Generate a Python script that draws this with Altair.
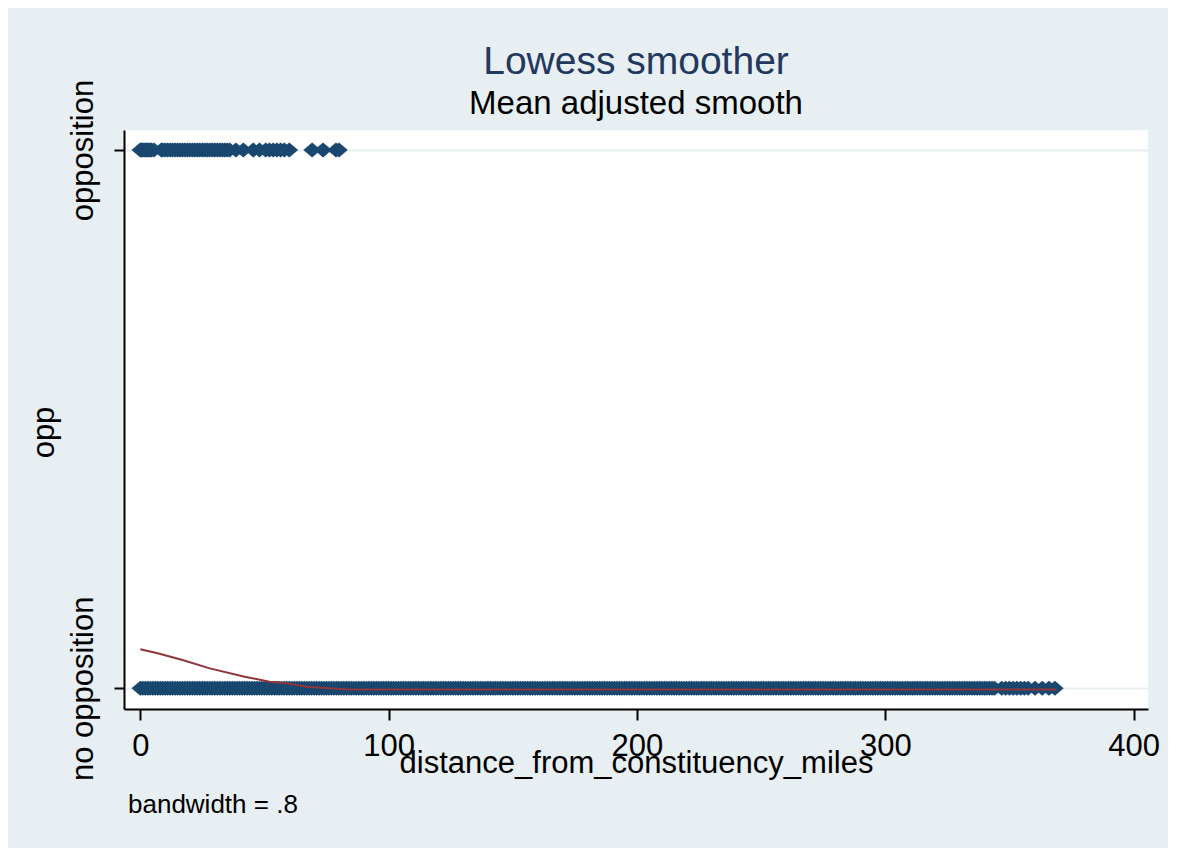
import altair as alt
import pandas as pd

FONT = "Liberation Sans"

# distance values of observations with opp = 1 ("opposition")
opp_yes_x = [0, 0.5, 1, 1.5, 2, 2.5, 3, 3.5, 4, 4.5, 5.5, 8.5, 9, 10, 11, 12, 13, 14,
             15, 16, 17, 18, 19, 20, 21, 22, 23, 24, 25, 26, 27, 28, 29, 30, 31,
             32, 33, 34, 35, 36, 38.5, 41.5, 45.5, 48, 50.5, 52, 53.5, 55, 56.5,
             58, 60, 69.2, 73.6, 78.8, 80]

# distance values of observations with opp = 0 ("no opposition")
opp_no_x = [
    0, 1, 2, 3, 4, 5, 6, 7, 8, 9, 10, 11, 12, 13, 14, 15, 16, 17, 18, 19,
    20, 21, 22, 23, 24, 25, 26, 27, 28, 29, 30, 31, 32, 33, 34, 35, 36, 37, 38, 39,
    40, 41, 42, 43, 44, 45, 46, 47, 48, 49, 50, 51, 52, 53, 54, 55, 56, 57, 58, 59,
    60, 61, 62, 63, 64, 65, 66, 67, 68, 69, 70, 71, 72, 73, 74, 75, 76, 77, 78, 79,
    80, 81, 82, 83, 84, 85, 86, 87, 88, 89, 90, 91, 92, 93, 94, 95, 96, 97, 98, 99,
    100, 101, 102, 103, 104, 105, 106, 107, 108, 109, 110, 111, 112, 113, 114, 115, 116, 117, 118, 119,
    120, 121, 122, 123, 124, 125, 126, 127, 128, 129, 130, 131, 132, 133, 134, 135, 136, 137, 138, 139,
    140, 141, 142, 143, 144, 145, 146, 147, 148, 149, 150, 151, 152, 153, 154, 155, 156, 157, 158, 159,
    160, 161, 162, 163, 164, 165, 166, 167, 168, 169, 170, 171, 172, 173, 174, 175, 176, 177, 178, 179,
    180, 181, 182, 183, 184, 185, 186, 187, 188, 189, 190, 191, 192, 193, 194, 195, 196, 197, 198, 199,
    200, 201, 202, 203, 204, 205, 206, 207, 208, 209, 210, 211, 212, 213, 214, 215, 216, 217, 218, 219,
    220, 221, 222, 223, 224, 225, 226, 227, 228, 229, 230, 231, 232, 233, 234, 235, 236, 237, 238, 239,
    240, 241, 242, 243, 244, 245, 246, 247, 248, 249, 250, 251, 252, 253, 254, 255, 256, 257, 258, 259,
    260, 261, 262, 263, 264, 265, 266, 267, 268, 269, 270, 271, 272, 273, 274, 275, 276, 277, 278, 279,
    280, 281, 282, 283, 284, 285, 286, 287, 288, 289, 290, 291, 292, 293, 294, 295, 296, 297, 298, 299,
    300, 301, 302, 303, 304, 305, 306, 307, 308, 309, 310, 311, 312, 313, 314, 315, 316, 317, 318, 319,
    320, 321, 322, 323, 324, 325, 326, 327, 328, 329, 330, 331, 332, 333, 334, 335, 336, 337, 338, 339,
    340, 341, 342, 343, 344, 346.9, 348.5, 350, 351.5, 353, 354.5, 356, 357.5,
    360.3, 363.2, 365.9, 368.3]

# lowess smooth
lowess_x = [0, 7, 17, 28, 42, 52, 59, 67, 84, 150, 250, 369]
lowess_y = [0.0725, 0.065, 0.0526, 0.037, 0.0216, 0.0123, 0.0093, 0.003,
            -0.0022, -0.0025, -0.0025, -0.0025]

x_ticks = [0, 100, 200, 300, 400]
y_ticks = [0, 1]
y_tick_labels = ["no opposition", "opposition"]

title_text = "Lowess smoother"
subtitle_text = "Mean adjusted smooth"
x_title = "distance_from_constituency_miles"
y_title = "opp"
note_text = "bandwidth = .8"

BG = "#e8eff2"
NAVY = "#1a476f"
MAROON = "#90353b"

pts = pd.DataFrame({
    "distance": opp_yes_x + opp_no_x,
    "opp": [y_ticks[1]] * len(opp_yes_x) + [y_ticks[0]] * len(opp_no_x),
})
lw = pd.DataFrame({"distance": lowess_x, "opp": lowess_y})
note_df = pd.DataFrame({"t": [note_text]})

xscale = alt.Scale(domain=[-6.56, 405.8], nice=False, zero=False)
yscale = alt.Scale(domain=[-0.0385, 1.0372], nice=False, zero=False)

label_expr = (f"datum.value == {y_ticks[1]} ? '{y_tick_labels[1]}' : "
              f"'{y_tick_labels[0]}'")

x_axis = alt.Axis(
    values=x_ticks, title=x_title, grid=False,
    domainColor="black", domainWidth=2, tickColor="black", tickWidth=2, tickSize=11,
    labelFont=FONT, labelFontSize=31, labelColor="black", labelBaseline="alphabetic",
    labelPadding=35, labelFlush=False, labelOverlap=False, labelLimit=400,
    titleFont=FONT, titleFontSize=31, titleFontWeight="normal", titleColor="black",
    titleBaseline="alphabetic", titleAlign="center", titleX=512, titleY=63,
    titleLimit=1000,
)
y_axis = alt.Axis(
    values=y_ticks, labelExpr=label_expr, title=y_title, grid=True,
    gridColor=BG, gridWidth=2,
    domainColor="black", domainWidth=2, tickColor="black", tickWidth=2, tickSize=10,
    labelFont=FONT, labelFontSize=31, labelColor="black", labelAngle=270,
    labelAlign="center", labelBaseline="bottom", labelPadding=15,
    labelFlush=False, labelOverlap=False, labelLimit=400,
    titleFont=FONT, titleFontSize=31, titleFontWeight="normal", titleColor="black",
    titleAngle=270, titleAlign="center", titleBaseline="bottom",
    titleX=-64, titleY=302,
)

points = alt.Chart(pts).mark_point(
    shape="M-1,0L0,-0.85L1,0L0,0.85Z", filled=True, size=310,
    color=NAVY, opacity=1, strokeWidth=0,
).encode(
    x=alt.X("distance:Q", scale=xscale, axis=x_axis),
    y=alt.Y("opp:Q", scale=yscale, axis=y_axis),
)

line = alt.Chart(lw).mark_line(color=MAROON, strokeWidth=2).encode(
    x=alt.X("distance:Q", scale=xscale),
    y=alt.Y("opp:Q", scale=yscale),
)

note = alt.Chart(note_df).mark_text(
    align="left", baseline="alphabetic", font=FONT, fontSize=26, color="black",
).encode(x=alt.value(4), y=alt.value(683), text="t:N")

chart = alt.layer(points, line, note).properties(
    width=1024,
    height=579,
    title=alt.TitleParams(
        text=title_text, subtitle=subtitle_text,
        font=FONT, fontSize=39, fontWeight="normal", color="#23385e",
        subtitleFont=FONT, subtitleFontSize=33, subtitleColor="black",
        subtitlePadding=6, anchor="middle", frame="group", offset=-42,
    ),
    background=BG,
    padding={"left": 116, "top": 122, "right": 20, "bottom": 139},
    autosize=alt.AutoSizeParams(type="none"),
).configure_view(fill="white", strokeWidth=0)

chart.save("out.html", embed_options={"renderer": "svg", "actions": False})
